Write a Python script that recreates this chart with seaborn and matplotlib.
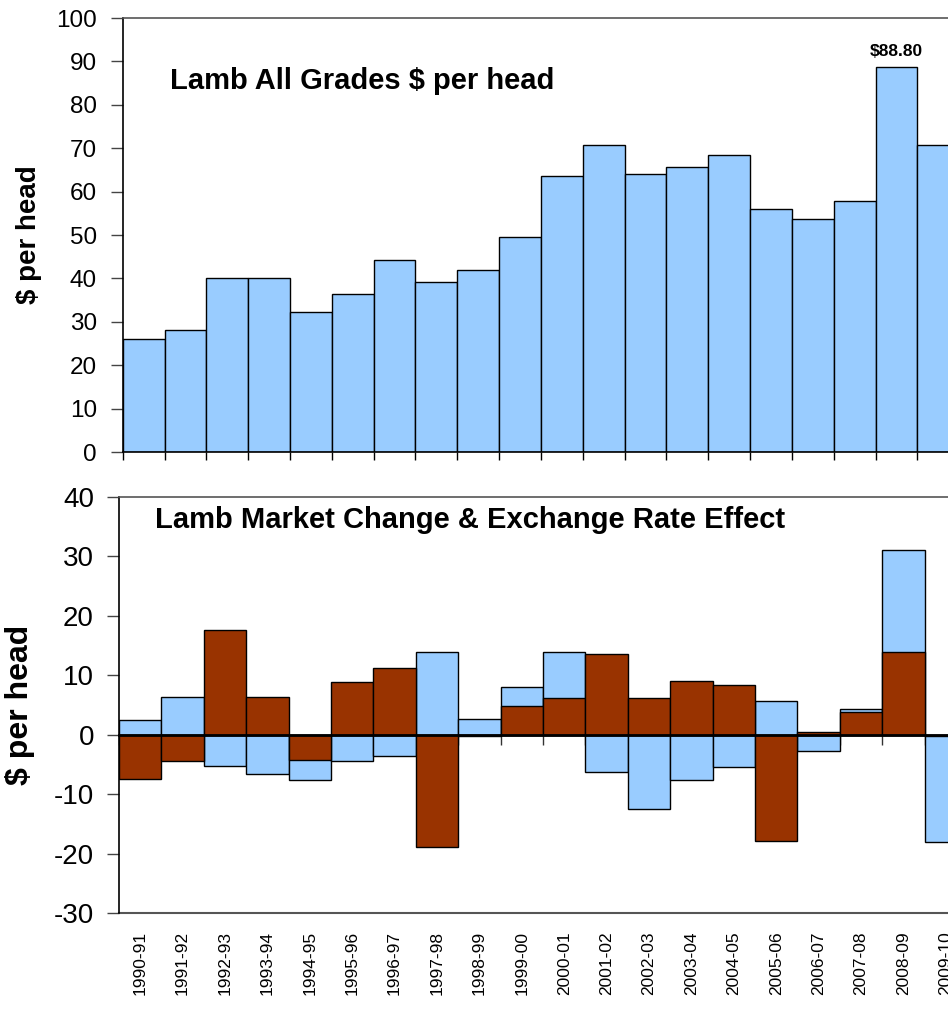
import numpy as np
import pandas as pd
import seaborn as sns
from matplotlib import pyplot as plt

seasons = ['1990-91', '1991-92', '1992-93', '1993-94', '1994-95', '1995-96', '1996-97',
           '1997-98', '1998-99', '1999-00', '2000-01', '2001-02', '2002-03', '2003-04',
           '2004-05', '2005-06', '2006-07', '2007-08', '2008-09', '2009-10']
price_per_head = [26.0, 28.0, 40.0, 40.0, 32.2, 36.4, 44.2, 39.2, 41.9, 49.6,
                  63.6, 70.7, 64.1, 65.7, 68.4, 56.0, 53.7, 57.9, 88.8, 70.8]
market_change = [2.5, 6.4, -5.2, -6.6, -7.7, -4.5, -3.6, 13.9, 2.7, 8.0,
                 13.9, -6.3, -12.5, -7.7, -5.4, 5.6, -2.7, 4.4, 31.0, -18.0]
exchange_effect = [-7.5, -4.5, 17.6, 6.4, -4.3, 8.9, 11.2, -18.9, -0.3, 4.8,
                   6.2, 13.5, 6.2, 9.1, 8.3, -17.8, 0.4, 3.9, 13.9, -0.3]

blue = '#99CCFF'
brown = '#993300'

sns.set_style('white')
plt.rcParams['font.family'] = ['Liberation Sans', 'DejaVu Sans']
plt.rcParams['text.color'] = 'black'
plt.rcParams['axes.labelcolor'] = 'black'
plt.rcParams['xtick.color'] = 'black'
plt.rcParams['ytick.color'] = 'black'
plt.rcParams['axes.unicode_minus'] = False

df = pd.DataFrame({'season': seasons, 'price': price_per_head,
                   'change': market_change, 'fx': exchange_effect})

fig = plt.figure(figsize=(9.48, 10.13), dpi=100)

# top panel: price per head
ax1 = fig.add_axes([0.1294, 0.5538, 0.8825, 0.4284])
sns.barplot(data=df, x='season', y='price', order=seasons, color=blue, saturation=1,
            edgecolor='black', linewidth=1, width=1, ax=ax1, zorder=2)
ax1.set_axisbelow(True)
ax1.set_xlim(-0.5, len(seasons) - 0.5)
ax1.set_ylim(0, 100)
ax1.set_yticks(range(0, 101, 10))
ax1.set_xticks([])
ax1.set_xticks(np.arange(len(seasons) + 1) - 0.5, minor=True)
ax1.tick_params(axis='x', which='minor', bottom=True, length=6, width=1, color='black')
ax1.tick_params(axis='y', left=True, length=9, width=1, color='#444444', labelsize=17.5, pad=9.5)
ax1.set_xlabel('')
ax1.set_ylabel('$ per head', fontsize=20, fontweight='bold')
ax1.yaxis.set_label_coords(-0.097, 0.5)
for side in ['left', 'bottom']:
    ax1.spines[side].set_color('black')
    ax1.spines[side].set_linewidth(1.2)
ax1.spines['top'].set_color('#555555')
ax1.spines['top'].set_linewidth(1.2)
ax1.spines['right'].set_visible(False)
ax1.text(0.0565, 0.855, 'Lamb All Grades $ per head', transform=ax1.transAxes,
         fontsize=21, fontweight='bold', va='center', ha='left')
peak = int(np.argmax(price_per_head))
ax1.text(peak, price_per_head[peak] + 1.8, f'${price_per_head[peak]:.2f}',
         ha='center', va='bottom', fontsize=12.5, fontweight='bold')

# bottom panel: change and exchange rate effect
ax2 = fig.add_axes([0.1255, 0.0987, 0.8945, 0.4107])
sns.barplot(data=df, x='season', y='change', order=seasons, color=blue, saturation=1,
            edgecolor='black', linewidth=1, width=1, ax=ax2, zorder=2)
sns.barplot(data=df, x='season', y='fx', order=seasons, color=brown, saturation=1,
            edgecolor='black', linewidth=1, width=1, ax=ax2, zorder=2)
ax2.set_axisbelow(True)
ax2.set_xlim(-0.5, len(seasons) - 0.5)
ax2.set_ylim(-30, 40)
ax2.set_yticks(range(-30, 41, 10))
ax2.set_xticks([])
ax2.set_xticks(np.arange(len(seasons) + 1) - 0.5, minor=True)
ax2.tick_params(axis='x', which='minor', bottom=True, length=7, width=1, color='#333333')
ax2.tick_params(axis='y', left=True, length=9, width=1, color='#444444', labelsize=20, pad=9)
ax2.set_xlabel('')
ax2.set_ylabel('$ per head', fontsize=23, fontweight='bold')
ax2.yaxis.set_label_coords(-0.099, 0.5)
ax2.spines['bottom'].set_position(('data', 0))
ax2.spines['bottom'].set_color('black')
ax2.spines['bottom'].set_linewidth(2)
ax2.spines['left'].set_color('black')
ax2.spines['left'].set_linewidth(1.2)
ax2.spines['top'].set_color('#555555')
ax2.spines['top'].set_linewidth(1.2)
ax2.spines['right'].set_visible(False)
ax2.text(0.0425, 0.945, 'Lamb Market Change & Exchange Rate Effect', transform=ax2.transAxes,
         fontsize=21, fontweight='bold', va='center', ha='left')

sec = ax2.secondary_xaxis('bottom')
sec.set_xticks(range(len(seasons)), labels=seasons)
sec.tick_params(axis='x', length=0, labelsize=12.5, labelrotation=90, pad=13)
sec.spines['bottom'].set_color('#555555')
sec.spines['bottom'].set_linewidth(1.5)

plt.savefig('out.png', dpi=100)
plt.close()
